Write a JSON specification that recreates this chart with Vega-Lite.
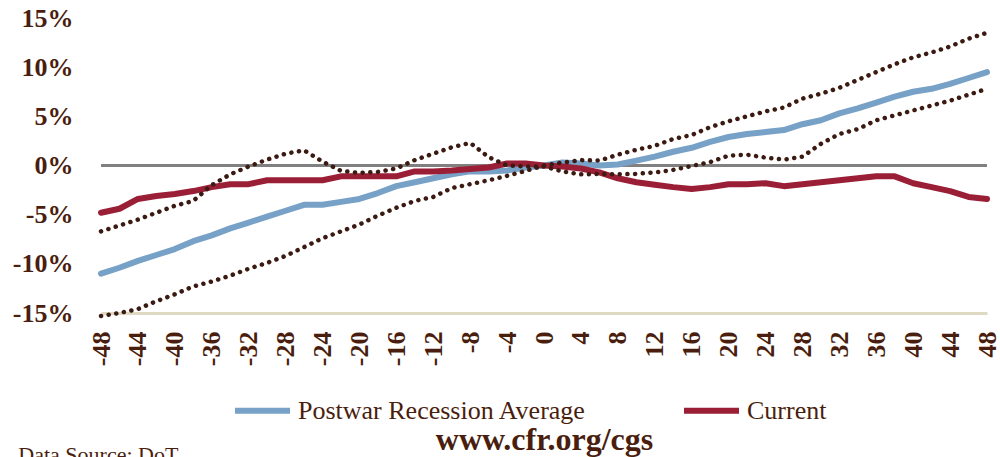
{
  "$schema": "https://vega.github.io/schema/vega-lite/v6.json",
  "width": 886,
  "height": 295,
  "autosize": "none",
  "padding": {"left": 101, "top": 18, "right": 13, "bottom": 144},
  "background": "white",
  "config": {
    "view": {"stroke": null},
    "font": "Liberation Serif",
    "axis": {"labelFont": "Liberation Serif", "labelColor": "#4a1e0e", "labelFontWeight": "bold", "labelFontSize": 26, "grid": false, "ticks": false},
    "legend": {"labelFont": "Liberation Serif", "labelColor": "#4a1e0e", "labelFontSize": 26}
  },
  "title": {
    "text": "Data Source: DoT",
    "orient": "bottom",
    "anchor": "start",
    "frame": "bounds",
    "font": "Liberation Serif",
    "fontSize": 22,
    "fontWeight": "normal",
    "color": "#4a1e0e",
    "offset": 0,
    "dy": -10,
    "dx": 6
  },
  "data": {
    "values": [
      {"m": -48, "Postwar Recession Average": -11.0, "Current": -4.8, "Band A": -6.7, "Band B": -15.3},
      {"m": -46, "Postwar Recession Average": -10.4, "Current": -4.4, "Band A": -6.1, "Band B": -15.0},
      {"m": -44, "Postwar Recession Average": -9.7, "Current": -3.4, "Band A": -5.5, "Band B": -14.6},
      {"m": -42, "Postwar Recession Average": -9.1, "Current": -3.1, "Band A": -4.8, "Band B": -13.8},
      {"m": -40, "Postwar Recession Average": -8.5, "Current": -2.9, "Band A": -4.1, "Band B": -13.1},
      {"m": -38, "Postwar Recession Average": -7.7, "Current": -2.6, "Band A": -3.6, "Band B": -12.3},
      {"m": -36, "Postwar Recession Average": -7.1, "Current": -2.2, "Band A": -2.0, "Band B": -11.8},
      {"m": -34, "Postwar Recession Average": -6.4, "Current": -1.9, "Band A": -0.9, "Band B": -11.2},
      {"m": -32, "Postwar Recession Average": -5.8, "Current": -1.9, "Band A": -0.1, "Band B": -10.5},
      {"m": -30, "Postwar Recession Average": -5.2, "Current": -1.5, "Band A": 0.6, "Band B": -9.9},
      {"m": -28, "Postwar Recession Average": -4.6, "Current": -1.5, "Band A": 1.2, "Band B": -9.2},
      {"m": -26, "Postwar Recession Average": -4.0, "Current": -1.5, "Band A": 1.55, "Band B": -8.3},
      {"m": -24, "Postwar Recession Average": -4.0, "Current": -1.5, "Band A": 0.4, "Band B": -7.4},
      {"m": -22, "Postwar Recession Average": -3.7, "Current": -1.1, "Band A": -0.55, "Band B": -6.7},
      {"m": -20, "Postwar Recession Average": -3.4, "Current": -1.1, "Band A": -0.75, "Band B": -6.0},
      {"m": -18, "Postwar Recession Average": -2.8, "Current": -1.1, "Band A": -0.65, "Band B": -5.1},
      {"m": -16, "Postwar Recession Average": -2.1, "Current": -1.1, "Band A": -0.3, "Band B": -4.3},
      {"m": -14, "Postwar Recession Average": -1.7, "Current": -0.6, "Band A": 0.55, "Band B": -3.6},
      {"m": -12, "Postwar Recession Average": -1.3, "Current": -0.6, "Band A": 1.2, "Band B": -3.2},
      {"m": -10, "Postwar Recession Average": -0.9, "Current": -0.5, "Band A": 1.85, "Band B": -2.3},
      {"m": -8, "Postwar Recession Average": -0.6, "Current": -0.35, "Band A": 2.3, "Band B": -1.9},
      {"m": -6, "Postwar Recession Average": -0.6, "Current": -0.2, "Band A": 0.85, "Band B": -1.5},
      {"m": -4, "Postwar Recession Average": -0.5, "Current": 0.2, "Band A": 0.0, "Band B": -1.05},
      {"m": -2, "Postwar Recession Average": -0.2, "Current": 0.2, "Band A": -0.1, "Band B": -0.55},
      {"m": 0, "Postwar Recession Average": 0.0, "Current": 0.0, "Band A": -0.1, "Band B": 0.0},
      {"m": 2, "Postwar Recession Average": 0.3, "Current": -0.1, "Band A": -0.6, "Band B": 0.3},
      {"m": 4, "Postwar Recession Average": 0.2, "Current": -0.3, "Band A": -0.9, "Band B": 0.55},
      {"m": 6, "Postwar Recession Average": 0.0, "Current": -0.7, "Band A": -0.85, "Band B": 0.5},
      {"m": 8, "Postwar Recession Average": 0.1, "Current": -1.3, "Band A": -0.9, "Band B": 1.1},
      {"m": 10, "Postwar Recession Average": 0.5, "Current": -1.7, "Band A": -0.85, "Band B": 1.6},
      {"m": 12, "Postwar Recession Average": 0.9, "Current": -1.95, "Band A": -0.7, "Band B": 2.0},
      {"m": 14, "Postwar Recession Average": 1.4, "Current": -2.2, "Band A": -0.45, "Band B": 2.7},
      {"m": 16, "Postwar Recession Average": 1.8, "Current": -2.4, "Band A": -0.05, "Band B": 3.1},
      {"m": 18, "Postwar Recession Average": 2.4, "Current": -2.2, "Band A": 0.35, "Band B": 3.9},
      {"m": 20, "Postwar Recession Average": 2.9, "Current": -1.9, "Band A": 1.0, "Band B": 4.5},
      {"m": 22, "Postwar Recession Average": 3.2, "Current": -1.9, "Band A": 1.1, "Band B": 5.0},
      {"m": 24, "Postwar Recession Average": 3.4, "Current": -1.8, "Band A": 0.8, "Band B": 5.5},
      {"m": 26, "Postwar Recession Average": 3.6, "Current": -2.1, "Band A": 0.6, "Band B": 5.9},
      {"m": 28, "Postwar Recession Average": 4.2, "Current": -1.9, "Band A": 0.9, "Band B": 6.8},
      {"m": 30, "Postwar Recession Average": 4.6, "Current": -1.7, "Band A": 2.2, "Band B": 7.3},
      {"m": 32, "Postwar Recession Average": 5.3, "Current": -1.5, "Band A": 3.2, "Band B": 7.9},
      {"m": 34, "Postwar Recession Average": 5.8, "Current": -1.3, "Band A": 3.7, "Band B": 8.7},
      {"m": 36, "Postwar Recession Average": 6.4, "Current": -1.1, "Band A": 4.6, "Band B": 9.5},
      {"m": 38, "Postwar Recession Average": 7.0, "Current": -1.1, "Band A": 5.1, "Band B": 10.3},
      {"m": 40, "Postwar Recession Average": 7.5, "Current": -1.8, "Band A": 5.6, "Band B": 11.0},
      {"m": 42, "Postwar Recession Average": 7.8, "Current": -2.2, "Band A": 6.1, "Band B": 11.5},
      {"m": 44, "Postwar Recession Average": 8.3, "Current": -2.6, "Band A": 6.6, "Band B": 12.1},
      {"m": 46, "Postwar Recession Average": 8.9, "Current": -3.2, "Band A": 7.2, "Band B": 12.9},
      {"m": 48, "Postwar Recession Average": 9.5, "Current": -3.4, "Band A": 7.8, "Band B": 13.5}
    ]
  },
  "encoding": {
    "x": {
      "field": "m",
      "type": "quantitative",
      "scale": {"domain": [-48, 48], "nice": false, "zero": false},
      "axis": {
        "values": [-48, -44, -40, -36, -32, -28, -24, -20, -16, -12, -8, -4, 0, 4, 8, 12, 16, 20, 24, 28, 32, 36, 40, 44, 48],
        "labelExpr": "datum.value + ''",
        "labelAngle": -90,
        "labelPadding": 18,
        "domainColor": "#ddd9c3",
        "domainWidth": 3,
        "title": "www.cfr.org/cgs",
        "titleFont": "Liberation Serif",
        "titleFontSize": 32,
        "titleFontWeight": "bold",
        "titleColor": "#4a1e0e",
        "titleBaseline": "alphabetic",
        "titleY": 136
      }
    }
  },
  "layer": [
    {
      "mark": {"type": "rule", "color": "#808080", "strokeWidth": 2},
      "encoding": {"x": null, "y": {"datum": 0, "type": "quantitative"}}
    },
    {
      "transform": [{"fold": ["Postwar Recession Average", "Current"], "as": ["series", "v"]}],
      "mark": {"type": "line", "strokeWidth": 6, "strokeCap": "round", "strokeJoin": "round"},
      "encoding": {
        "y": {
          "field": "v",
          "type": "quantitative",
          "scale": {"domain": [-15, 15], "nice": false},
          "axis": {
            "values": [-15, -10, -5, 0, 5, 10, 15],
            "labelExpr": "datum.value + '%'",
            "domain": false,
            "labelPadding": 28,
            "title": null
          }
        },
        "color": {
          "field": "series",
          "type": "nominal",
          "scale": {"domain": ["Postwar Recession Average", "Current"], "range": ["#77a1c6", "#9a1f36"]},
          "legend": {
            "title": null,
            "orient": "none",
            "direction": "horizontal",
            "legendX": 131,
            "legendY": 362,
            "symbolType": "stroke",
            "symbolSize": 3025,
            "symbolStrokeWidth": 6,
            "labelOffset": 5,
            "labelLimit": 0,
            "columnPadding": 85,
            "padding": 0
          }
        }
      }
    },
    {
      "transform": [{"fold": ["Band A", "Band B"], "as": ["band", "v"]}],
      "mark": {"type": "line", "color": "#3b1a12", "strokeWidth": 4.5, "strokeCap": "round", "strokeDash": [0.1, 7.6]},
      "encoding": {
        "y": {"field": "v", "type": "quantitative"},
        "detail": {"field": "band", "type": "nominal"}
      }
    }
  ]
}
